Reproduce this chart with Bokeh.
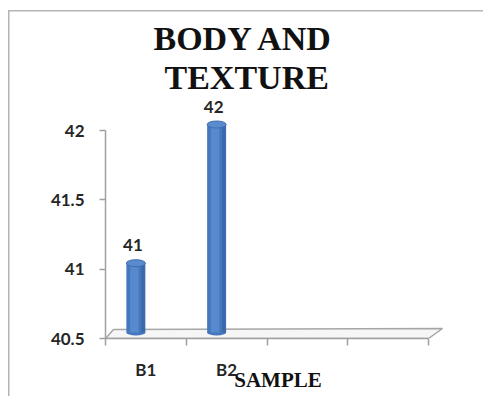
from bokeh.plotting import figure
from bokeh.models import Range1d, FixedTicker, Label, Title
from bokeh.embed import file_html
from bokeh.resources import INLINE

# ---- data ----
title_lines = ["BODY AND", "TEXTURE"]
categories = ["B1", "B2"]
scores = [41, 42]
n_slots = 4
y_ticks = [40.5, 41, 41.5, 42]
y_tick_labels = ["40.5", "41", "41.5", "42"]
x_axis_title = "SAMPLE"

# ---- layout (page pixels) ----
W, H = 483, 396
FL, FR, FT, FB = 105, 450, 95, 338
AX_RIGHT = 428
Y_TOP_TICK_PX = 130
PX_X = (AX_RIGHT - FL) / n_slots
PX_Y = (FB - Y_TOP_TICK_PX) / (y_ticks[-1] - y_ticks[0])
Y0 = y_ticks[0]

border_col = "#b4b4b4"
p = figure(width=W, height=H,
           x_range=Range1d(0, (FR - FL) / PX_X),
           y_range=Range1d(Y0, Y0 + (FB - FT) / PX_Y),
           output_backend="svg", toolbar_location=None,
           min_border_left=FL, min_border_right=W - FR,
           min_border_top=FT, min_border_bottom=H - FB)
p.outline_line_color = None
p.background_fill_color = "white"
p.border_fill_color = None
p.styles = {
    "background": (f"linear-gradient({border_col},{border_col}) 8px 10px / 1.5px 400px no-repeat, "
                   f"linear-gradient({border_col},{border_col}) 8px 10px / 480px 1.5px no-repeat, "
                   "white")
}
p.xgrid.visible = False
p.ygrid.visible = False

# 3D floor
fx = [0, n_slots, n_slots + 14 / PX_X, 8 / PX_X]
fy = [Y0, Y0, Y0 + 10 / PX_Y, Y0 + 9 / PX_Y]
p.patch(fx, fy, fill_color="#f6f6f6", line_color="#a6a6a6", line_width=1.5)

# cylinders
depth_x = -10 / PX_X
depth_y = 6 / PX_Y
bw_px = 19
bw = bw_px / PX_X
xs = [i + 0.5 + depth_x for i in range(len(categories))]
tops = [v + depth_y for v in scores]
bottom = Y0 + depth_y

body = "#4677bd"
p.vbar(x=xs, top=tops, bottom=bottom, width=bw, fill_color=body, line_color=None)
p.ellipse(x=xs, y=[bottom] * len(xs), width=bw_px, height=6,
          width_units="screen", height_units="screen",
          fill_color=body, line_color=None)
p.vbar(x=[x - bw * 0.08 for x in xs], top=tops, bottom=bottom, width=bw * 0.45,
       fill_color="#5689cd", line_color=None)
p.vbar(x=[x + bw * 0.38 for x in xs], top=tops, bottom=bottom, width=bw * 0.18,
       fill_color="#3b69a9", line_color=None)
p.ellipse(x=xs, y=tops, width=bw_px, height=7,
          width_units="screen", height_units="screen",
          fill_color="#5a8bcf", line_color="#3f6eb0", line_width=1)

# data labels
for x, t, v in zip(xs, tops, scores):
    p.add_layout(Label(x=x - 3 / PX_X, y=t + 12 / PX_Y, text=str(v),
                       text_align="center", text_baseline="bottom",
                       text_font="Lato", text_font_style="bold",
                       text_font_size="17px", text_color="#262626"))

# axes
axis_col = "#a0a0a0"
p.xaxis.ticker = FixedTicker(ticks=[i + 0.5 for i in range(n_slots)],
                             minor_ticks=list(range(n_slots + 1)))
p.xaxis.major_label_overrides = {
    i + 0.5: (categories[i] if i < len(categories) else "") for i in range(n_slots)
}
p.xaxis.bounds = (0, n_slots)
p.xaxis.major_tick_out = 0
p.xaxis.major_tick_in = 0
p.xaxis.minor_tick_out = 7
p.xaxis.minor_tick_in = 0
p.xaxis.minor_tick_line_color = axis_col
p.xaxis.minor_tick_line_width = 1.5
p.xaxis.axis_line_color = axis_col
p.xaxis.axis_line_width = 1.5
p.xaxis.major_label_standoff = 13
p.xaxis.major_label_text_font = "Lato"
p.xaxis.major_label_text_font_style = "bold"
p.xaxis.major_label_text_font_size = "17px"
p.xaxis.major_label_text_color = "#262626"
p.xaxis.axis_label = x_axis_title
p.xaxis.axis_label_standoff = -15
p.xaxis.axis_label_text_font = "Liberation Serif"
p.xaxis.axis_label_text_font_style = "bold"
p.xaxis.axis_label_text_font_size = "21px"
p.xaxis.axis_label_text_color = "#111111"

p.yaxis.ticker = FixedTicker(ticks=y_ticks, minor_ticks=[])
p.yaxis.major_label_overrides = dict(zip(y_ticks, y_tick_labels))
p.yaxis.bounds = (Y0, y_ticks[-1])
p.yaxis.major_tick_out = 6
p.yaxis.major_tick_in = 0
p.yaxis.major_tick_line_color = axis_col
p.yaxis.major_tick_line_width = 1.5
p.yaxis.minor_tick_line_color = None
p.yaxis.axis_line_color = axis_col
p.yaxis.axis_line_width = 1.5
p.yaxis.major_label_standoff = 15
p.yaxis.major_label_text_font = "Lato"
p.yaxis.major_label_text_font_style = "bold"
p.yaxis.major_label_text_font_size = "17px"
p.yaxis.major_label_text_color = "#262626"

# two-line title: panels stack outward from the frame, so add the lower line first
for line, off in zip(reversed(title_lines), [59, 48]):
    p.add_layout(Title(text=line, align="left", offset=off, standoff=0,
                       text_font="Liberation Serif", text_font_style="bold",
                       text_font_size="34px", text_color="#111111"), "above")

open("out.html", "w").write(file_html(p, INLINE))
